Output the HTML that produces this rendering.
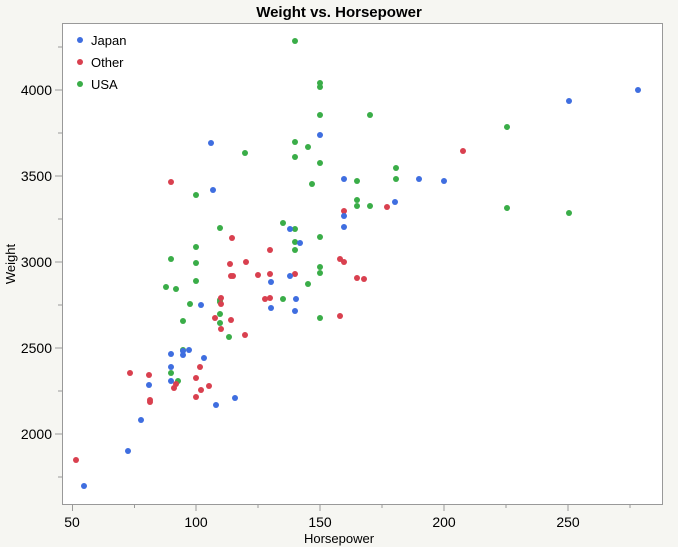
<!DOCTYPE html>
<html><head><style>
body{margin:0;background:#f6f6f2;font-family:"Liberation Sans",sans-serif;}
svg{display:block}
</style></head><body>
<svg width="678" height="547" xmlns="http://www.w3.org/2000/svg" font-family="Liberation Sans, sans-serif">
<rect width="678" height="547" fill="#f6f6f2"/>
<rect x="62.5" y="23.5" width="600" height="481" fill="#fff" stroke="#999" stroke-width="1"/>
<text x="339" y="17" text-anchor="middle" font-size="15" font-weight="bold">Weight vs. Horsepower</text>
<g stroke="#999" stroke-width="1">
<line x1="72.5" y1="504" x2="72.5" y2="511"/><line x1="134.5" y1="504" x2="134.5" y2="508"/>
<line x1="196" y1="504" x2="196" y2="511"/><line x1="258" y1="504" x2="258" y2="508"/>
<line x1="320" y1="504" x2="320" y2="511"/><line x1="382" y1="504" x2="382" y2="508"/>
<line x1="444" y1="504" x2="444" y2="511"/><line x1="506" y1="504" x2="506" y2="508"/>
<line x1="568" y1="504" x2="568" y2="511"/><line x1="630" y1="504" x2="630" y2="508"/>
<line x1="55" y1="434" x2="62" y2="434"/><line x1="58" y1="477" x2="62" y2="477"/>
<line x1="58" y1="391" x2="62" y2="391"/><line x1="55" y1="348" x2="62" y2="348"/>
<line x1="58" y1="305" x2="62" y2="305"/><line x1="55" y1="262" x2="62" y2="262"/>
<line x1="58" y1="219" x2="62" y2="219"/><line x1="55" y1="176" x2="62" y2="176"/>
<line x1="58" y1="133" x2="62" y2="133"/><line x1="55" y1="90" x2="62" y2="90"/>
<line x1="58" y1="47" x2="62" y2="47"/>
</g>
<g font-size="14" text-anchor="middle">
<text x="72" y="527">50</text><text x="196" y="527">100</text><text x="320" y="527">150</text>
<text x="444" y="527">200</text><text x="568" y="527">250</text>
</g>
<g font-size="14" text-anchor="end">
<text x="52" y="439">2000</text><text x="52" y="353">2500</text><text x="52" y="267">3000</text>
<text x="52" y="181">3500</text><text x="52" y="95">4000</text>
</g>
<text x="339" y="543" text-anchor="middle" font-size="13">Horsepower</text>
<text transform="translate(15,264) rotate(-90)" text-anchor="middle" font-size="13">Weight</text>
<g font-size="13">
<circle cx="80" cy="40" r="3" fill="#3f6ee0"/><text x="91" y="45">Japan</text>
<circle cx="80" cy="62" r="3" fill="#d9404f"/><text x="91" y="67">Other</text>
<circle cx="80" cy="84" r="3" fill="#3aad48"/><text x="91" y="89">USA</text>
</g>
<g fill="#3aad48" id="usa"></g>
<g fill="#d9404f" id="oth"></g>
<g fill="#3f6ee0" id="jp"></g>
</svg>
<script>
function pts(id,a){var g=document.getElementById(id);for(var i=0;i<a.length;i+=2){var c=document.createElementNS("http://www.w3.org/2000/svg","circle");c.setAttribute("cx",a[i]);c.setAttribute("cy",a[i+1]);c.setAttribute("r",3);g.appendChild(c);}}
pts("usa",[295,41,320,83,320,87,320,115,320,163,370,115,507,127,295,142,295,157,245,153,308,147,312,184,357,181,370,206,396,168,396,179,357,200,357,206,507,208,569,213,196,195,220,228,196,247,171,259,166,287,176,289,196,281,190,304,183,321,220,300,220,302,220,314,220,323,229,337,183,350,171,373,178,381,283,299,295,229,295,242,295,250,308,284,283,223,320,237,320,267,320,273,320,318,196,263]);
pts("oth",[76,460,130,373,149,375,150,400,150,402,174,388,176,384,171,182,196,378,196,397,200,367,201,390,209,386,215,318,221,304,221,298,221,329,230,264,231,276,232,238,245,335,246,262,258,275,265,299,270,298,270,250,270,274,295,274,340,316,344,262,344,211,340,259,357,278,364,279,387,207,463,151,231,320,233,276]);
pts("jp",[84,486,128,451,141,420,149,385,171,367,171,354,183,355,189,350,204,358,216,405,235,398,201,305,213,190,211,143,271,308,271,282,290,276,290,229,300,243,296,299,295,311,320,135,344,179,344,227,344,216,419,179,444,181,395,202,569,101,638,90,171,381,183,351]);
</script>
</body></html>
